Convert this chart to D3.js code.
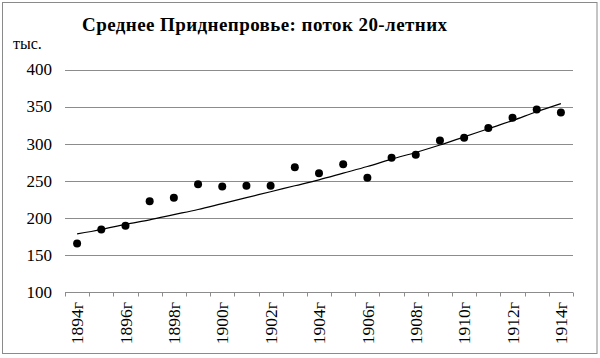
<!DOCTYPE html>
<html>
<head>
<meta charset="utf-8">
<script src="https://cdn.jsdelivr.net/npm/d3@7/dist/d3.min.js"></script>
<style>
  html, body { margin: 0; padding: 0; background: #fff; }
  svg { display: block; }
  text { font-family: "Liberation Serif", "Times New Roman", serif; fill: #000; }
</style>
</head>
<body>
<svg id="chart" width="600" height="358"></svg>
<script>
const titleText = "Среднее Приднепровье: поток 20-летних";
const unitLabel = "тыс.";
const years = [1894,1895,1896,1897,1898,1899,1900,1901,1902,1903,1904,1905,1906,1907,1908,1909,1910,1911,1912,1913,1914];
const values = [165,184,189,222,227,245,242,243,243,268,260,272,254,281,285,304,308,321,335,346,342];
const trend = [178,184,191,197,204,211,219,227,235,243,251,260,269,279,288,298,309,320,331,343,354];
const yTicks = [100,150,200,250,300,350,400];
const labelYears = [1894,1896,1898,1900,1902,1904,1906,1908,1910,1912,1914];

const svg = d3.select("#chart");

// frame
svg.append("rect").attr("x", 2.5).attr("y", 2.5).attr("width", 594.5).attr("height", 351)
  .attr("fill", "#fff").attr("stroke", "#8a8a8a").attr("stroke-width", 1);

const x = d3.scaleBand().domain(years).range([65, 573]).padding(0);
const y = d3.scaleLinear().domain([100, 400]).range([291.7, 69.5]);
const cx = d => x(d) + x.bandwidth() / 2;

// gridlines
svg.append("g").selectAll("line").data(yTicks.filter(t => t > 100)).join("line")
  .attr("x1", 65).attr("x2", 573)
  .attr("y1", d => Math.round(y(d)) + 0.5).attr("y2", d => Math.round(y(d)) + 0.5)
  .attr("stroke", "#8c8c8c").attr("stroke-width", 1);

// y labels
svg.append("g").selectAll("text").data(yTicks).join("text")
  .attr("x", 52).attr("y", d => y(d)).attr("dy", "0.35em")
  .attr("text-anchor", "end").attr("font-size", 17).text(d => d);

// x axis line and ticks
const axisY = Math.round(y(100)) + 0.5;
svg.append("line").attr("x1", 65).attr("x2", 573).attr("y1", axisY).attr("y2", axisY)
  .attr("stroke", "#8c8c8c").attr("stroke-width", 1);
const tickXs = years.map(d => x(d)).concat([x.range()[1]]);
svg.append("g").selectAll("line").data(tickXs).join("line")
  .attr("x1", d => Math.round(d) + 0.5).attr("x2", d => Math.round(d) + 0.5)
  .attr("y1", axisY).attr("y2", axisY + 4)
  .attr("stroke", "#8c8c8c").attr("stroke-width", 1);

// x labels (rotated)
svg.append("g").selectAll("text").data(labelYears).join("text")
  .attr("transform", d => `translate(${cx(d)},302) rotate(-90)`)
  .attr("dy", "0.35em").attr("text-anchor", "end").attr("font-size", 17.5)
  .text(d => d + "г");

// trend line
const line = d3.line().x((d, i) => cx(years[i])).y(d => y(d)).curve(d3.curveMonotoneX);
svg.append("path").datum(trend).attr("d", line)
  .attr("fill", "none").attr("stroke", "#000").attr("stroke-width", 1.2);

// points
svg.append("g").selectAll("circle").data(values).join("circle")
  .attr("cx", (d, i) => cx(years[i])).attr("cy", d => y(d)).attr("r", 4)
  .attr("fill", "#000");

// title
svg.append("text").attr("x", 82).attr("y", 31).attr("font-size", 19).attr("font-weight", "bold")
  .attr("textLength", 365).attr("lengthAdjust", "spacing")
  .text(titleText);

// unit label
svg.append("text").attr("x", 13).attr("y", 49).attr("font-size", 16).text(unitLabel);
</script>
</body>
</html>
